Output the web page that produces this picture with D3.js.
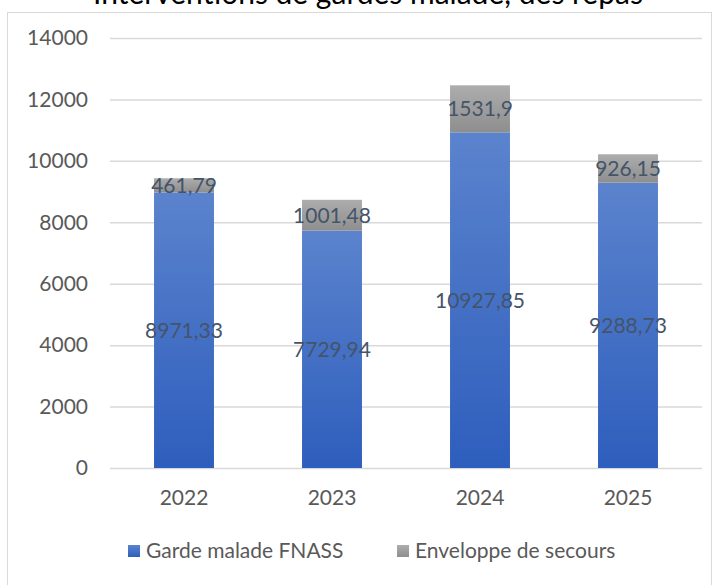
<!DOCTYPE html>
<html>
<head>
<meta charset="utf-8">
<script src="https://cdn.jsdelivr.net/npm/d3@7"></script>
<style>
    body { margin: 0; background: #fff; }
    svg text { font-family: Lato, "Open Sans", sans-serif; }
</style>
</head>
<body>
<div id="chart_parent"></div>
<script>
const years = ['2022', '2023', '2024', '2025'];
const gardeMalade = [8971.33, 7729.94, 10927.85, 9288.73];
const enveloppeSecours = [461.79, 1001.48, 1531.9, 926.15];
const seriesNames = ['Garde malade FNASS', 'Enveloppe de secours'];
const yTicks = [0, 2000, 4000, 6000, 8000, 10000, 12000, 14000];

const config = {
    outerWidth: 720,
    outerHeight: 585,
    plot: { left: 110, right: 702, top: 38, bottom: 468 },
};

const fmt = v => String(v).replace('.', ',');

const svg = d3.select('#chart_parent').append('svg')
    .attr('width', config.outerWidth)
    .attr('height', config.outerHeight);

const defs = svg.append('defs');
function addGradient(id, top, bottom) {
    const g = defs.append('linearGradient')
        .attr('id', id)
        .attr('x1', 0).attr('y1', 0).attr('x2', 0).attr('y2', 1);
    g.append('stop').attr('offset', '0%').attr('stop-color', top);
    g.append('stop').attr('offset', '100%').attr('stop-color', bottom);
}
addGradient('gradBlue', '#5b83cd', '#2e5ebd');
addGradient('gradGray', '#adadad', '#8e8e8e');

// chart frame
svg.append('rect')
    .attr('x', 7.5).attr('y', 12.5)
    .attr('width', 704).attr('height', 600)
    .attr('fill', '#fff')
    .attr('stroke', '#d9d9d9');

// title, partly cut off at the top as in the source
svg.append('text')
    .attr('x', 368).attr('y', 4)
    .attr('text-anchor', 'middle')
    .attr('font-size', 30)
    .attr('fill', '#000')
    .text('Interventions de gardes malade, des repas');

const { plot } = config;

const xScale = d3.scaleBand()
    .domain(years)
    .range([plot.left, plot.right])
    .paddingInner(0.595)
    .paddingOuter(0.2975);

const yScale = d3.scaleLinear()
    .domain([0, 14000])
    .range([plot.bottom, plot.top]);

// gridlines
svg.append('g')
    .selectAll('line')
    .data(yTicks)
    .join('line')
    .attr('x1', plot.left).attr('x2', plot.right)
    .attr('y1', d => yScale(d) + 0.5).attr('y2', d => yScale(d) + 0.5)
    .attr('stroke', '#d9d9d9')
    .attr('stroke-width', 1.5);

// y axis labels
const yAxis = d3.axisLeft(yScale).tickValues(yTicks).tickFormat(d3.format('d')).tickSize(0).tickPadding(22);
const yAxisGroup = svg.append('g')
    .attr('transform', `translate(${plot.left},0)`)
    .call(yAxis);
yAxisGroup.select('.domain').remove();
yAxisGroup.selectAll('text')
    .attr('font-size', 21)
    .attr('fill', '#595959')
    .attr('font-family', 'Lato, "Open Sans", sans-serif');

// x axis labels
const xAxis = d3.axisBottom(xScale).tickSize(0).tickPadding(22);
const xAxisGroup = svg.append('g')
    .attr('transform', `translate(0,${plot.bottom})`)
    .call(xAxis);
xAxisGroup.select('.domain').remove();
xAxisGroup.selectAll('text')
    .attr('font-size', 21)
    .attr('fill', '#595959')
    .attr('font-family', 'Lato, "Open Sans", sans-serif');

const rows = years.map((y, i) => ({ year: y, a: gardeMalade[i], b: enveloppeSecours[i] }));

// blue segments
svg.append('g')
    .selectAll('rect')
    .data(rows)
    .join('rect')
    .attr('x', d => xScale(d.year))
    .attr('width', xScale.bandwidth())
    .attr('y', d => yScale(d.a))
    .attr('height', d => yScale(0) - yScale(d.a))
    .attr('fill', 'url(#gradBlue)');

// gray segments
svg.append('g')
    .selectAll('rect')
    .data(rows)
    .join('rect')
    .attr('x', d => xScale(d.year))
    .attr('width', xScale.bandwidth())
    .attr('y', d => yScale(d.a + d.b))
    .attr('height', d => yScale(d.a) - yScale(d.a + d.b))
    .attr('fill', 'url(#gradGray)');

// data labels
const labels = svg.append('g')
    .attr('font-size', 21)
    .attr('fill', '#44546a')
    .attr('text-anchor', 'middle');

labels.selectAll('text.lblA')
    .data(rows)
    .join('text')
    .attr('class', 'lblA')
    .attr('x', d => xScale(d.year) + xScale.bandwidth() / 2)
    .attr('y', d => yScale(d.a / 2))
    .attr('dy', '0.35em')
    .text(d => fmt(d.a));

labels.selectAll('text.lblB')
    .data(rows)
    .join('text')
    .attr('class', 'lblB')
    .attr('x', d => xScale(d.year) + xScale.bandwidth() / 2)
    .attr('y', d => yScale(d.a + d.b / 2))
    .attr('dy', '0.35em')
    .text(d => fmt(d.b));

// legend
const legend = svg.append('g').attr('transform', 'translate(0,551)');
const legendItems = [
    { name: seriesNames[0], fill: 'url(#gradBlue)', x: 128 },
    { name: seriesNames[1], fill: 'url(#gradGray)', x: 397 },
];
const li = legend.selectAll('g')
    .data(legendItems)
    .join('g')
    .attr('transform', d => `translate(${d.x},0)`);
li.append('rect')
    .attr('x', 0).attr('y', -6)
    .attr('width', 12).attr('height', 12)
    .attr('fill', d => d.fill);
li.append('text')
    .attr('x', 18).attr('y', 0)
    .attr('dy', '0.35em')
    .attr('font-size', 21)
    .attr('fill', '#595959')
    .text(d => d.name);
</script>
</body>
</html>
